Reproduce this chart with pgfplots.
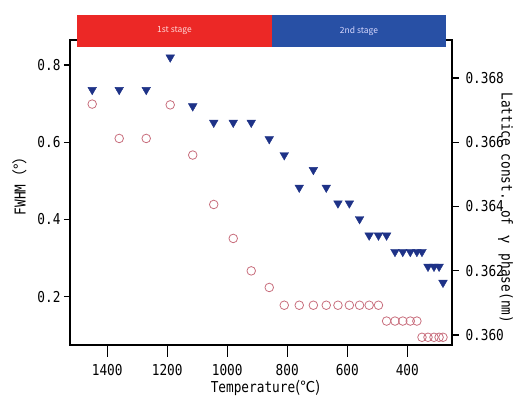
\documentclass[border=0pt]{standalone}
\usepackage{fontspec}
\setmainfont[FakeStretch=0.85]{DejaVu Sans Mono}
\newfontfamily\cjk{Noto Sans CJK JP}
\usepackage{pgfplots}
\usepackage{pgfplotstable}
\pgfplotsset{compat=1.18}
\definecolor{tri}{RGB}{30,50,135}
\definecolor{circ}{RGB}{200,110,125}
\definecolor{stageR}{RGB}{236,40,38}
\definecolor{stageB}{RGB}{40,80,165}
\pgfplotstableread{
T fwhm lat
1450 0.699 0.36763
1360 0.610 0.36763
1270 0.610 0.36763
1190 0.697 0.36864
1115 0.567 0.36712
1045 0.439 0.36661
980 0.351 0.36661
920 0.267 0.36661
860 0.224 0.36610
810 0.178 0.36560
760 0.178 0.36459
713 0.178 0.36514
670 0.178 0.36459
631 0.178 0.36410
593 0.178 0.36410
559 0.178 0.36361
527 0.178 0.36310
496 0.178 0.36310
469 0.137 0.36310
441 0.137 0.36259
415 0.137 0.36259
390 0.137 0.36259
368 0.137 0.36259
351 0.095 0.36259
331 0.095 0.36213
311 0.095 0.36213
294 0.095 0.36213
281 0.095 0.36163
}\data
\begin{document}
\begin{tikzpicture}
\pgfplotsset{
  common/.style={
    at={(0,0)}, anchor=south west, scale only axis,
    width=382pt, height=305pt,
    x dir=reverse, xmin=251, xmax=1524,
    axis line style={line width=1.2pt},
    every tick/.style={black, line width=1.2pt},
    tick align=outside,
    major tick length=6pt,
    /pgf/number format/assume math mode=true,
    /pgf/number format/set thousands separator={},
    tick label style={font=\fontsize{15}{17}\selectfont},
    label style={font=\fontsize{15}{17}\selectfont},
  }
}
\begin{axis}[common,
  ymin=0.075, ymax=0.865,
  xtick=\empty, ytick pos=left,
  ytick={0.2,0.4,0.6,0.8},
  yticklabels={0.2,0.4,0.6,0.8},
  ylabel={FWHM{\cjk（°）}},
  ylabel style={at={(axis description cs:-0.131,0.534)}, anchor=center},
]
\addplot[only marks, mark=o, mark size=4.3pt, mark options={draw=circ, line width=0.8pt}] table[x=T, y=fwhm]{\data};
\end{axis}
\begin{axis}[common,
  ymin=0.35969, ymax=0.36918,
  axis x line=none, axis y line*=right,
  major tick length=7pt,
  ytick={0.360,0.362,0.364,0.366,0.368},
  yticklabels={0.360,0.362,0.364,0.366,0.368},
  yticklabel style={xshift=3pt},
  ylabel={Lattice const. of\, {\cjk γ}\, phase(nm)},
  ylabel style={at={(axis description cs:1.141,0.45)}, anchor=center, rotate=180},
]
\addplot[only marks, mark=triangle*, mark size=5pt, mark options={fill=tri, draw=tri, rotate=180}] table[x=T, y=lat]{\data};
\end{axis}
\begin{axis}[common,
  ymin=0, ymax=1,
  axis x line*=bottom, axis y line=none,
  major tick length=12pt,
  xtick={400,600,800,1000,1200,1400},
  xticklabel style={yshift=-4pt},
  xlabel={Temperature{\cjk (℃)}},
  xlabel style={at={(axis description cs:0.512,-0.14)}, anchor=center},
]
\end{axis}
\fill[stageR] (7pt,298pt) rectangle (202pt,330pt);
\fill[stageB] (202pt,298pt) rectangle (376pt,330pt);
\node[text=white!85!red, font=\cjk\fontsize{8.5}{9}\selectfont] at (104.5pt,314pt) {1st stage};
\node[text=white!85!blue, font=\cjk\fontsize{8.5}{9}\selectfont] at (289pt,314pt) {2nd stage};
\pgfresetboundingbox
\path[use as bounding box] (-70pt,-51pt) rectangle (461pt,345pt);
\end{tikzpicture}
\end{document}
